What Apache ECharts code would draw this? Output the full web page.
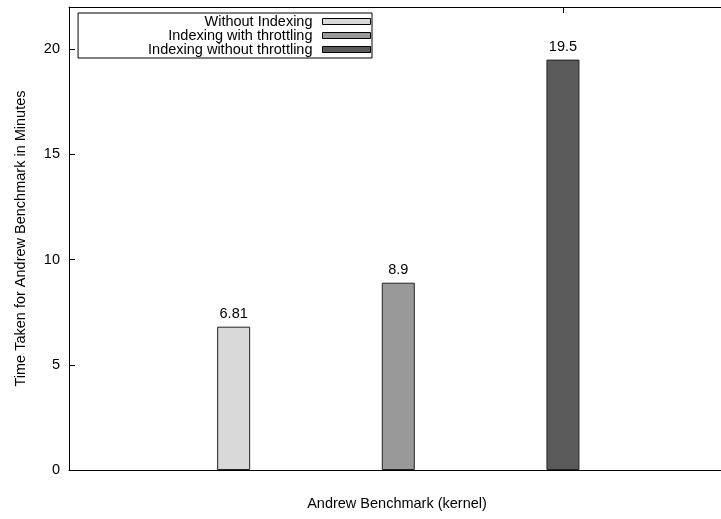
<!DOCTYPE html>
<html>
<head>
<meta charset="utf-8">
<title>Andrew Benchmark</title>
<script src="https://cdn.jsdelivr.net/npm/echarts@6/dist/echarts.min.js"></script>
<style>
  html, body { margin: 0; padding: 0; background: #fff; }
  #chart { width: 721px; height: 519px; }
</style>
</head>
<body>
<div id="chart"></div>
<script>
// Benchmark runs, one bar each
const seriesNames = ['Without Indexing', 'Indexing with throttling', 'Indexing without throttling'];
const slots = [1, 2, 3];
const minutes = [6.81, 8.9, 19.5];
const barColors = ['#d9d9d9', '#999999', '#5a5a5a'];
const yTicks = [0, 5, 10, 15, 20];
const xTitle = 'Andrew Benchmark (kernel)';
const yTitle = 'Time Taken for Andrew Benchmark in Minutes';

const FONT = 'Liberation Sans, Arial, Helvetica, sans-serif';
const FS = 14.5;

const chart = echarts.init(document.getElementById('chart'), null, { renderer: 'canvas' });

const series = seriesNames.map((name, i) => ({
  name: name,
  type: 'bar',
  xAxisIndex: 0,
  yAxisIndex: 0,
  barWidth: 33,
  barGap: '-100%',
  data: [[slots[i], minutes[i]]],
  itemStyle: { color: barColors[i], borderColor: '#222', borderWidth: 1 },
  label: {
    show: true,
    position: 'top',
    distance: 5,
    color: '#000',
    fontFamily: FONT,
    fontSize: FS,
    formatter: (p) => String(p.value[1])
  },
  emphasis: { disabled: true },
  animation: false
}));

// x range: the frame is cut by the right edge of the canvas
const X_MIN = 0;
const X_MAX = 3.96;

chart.setOption({
  animation: false,
  backgroundColor: '#fff',
  grid: { left: 69, right: 0, top: 7, bottom: 49, containLabel: false },
  legend: {
    data: seriesNames,
    orient: 'vertical',
    align: 'right',
    right: 349,
    top: 13,
    itemWidth: 48,
    itemHeight: 6,
    itemGap: -1,
    padding: [1, 1, 1, 70],
    borderColor: '#000',
    borderWidth: 1,
    backgroundColor: '#fff',
    selectedMode: false,
    icon: 'rect',
    itemStyle: { borderColor: '#000', borderWidth: 1 },
    textStyle: {
      color: '#000',
      fontFamily: FONT,
      fontSize: FS,
      lineHeight: 14,
      padding: [0, 5, 0, 0]
    }
  },
  xAxis: [
    {
      type: 'value',
      position: 'bottom',
      min: X_MIN,
      max: X_MAX,
      name: xTitle,
      nameLocation: 'middle',
      nameGap: 26,
      nameTextStyle: { color: '#000', fontFamily: FONT, fontSize: FS, padding: [0, 0, 0, 4] },
      axisLine: { show: true, onZero: false, lineStyle: { color: '#000', width: 1 } },
      axisTick: { show: false },
      axisLabel: { show: false },
      splitLine: { show: false }
    },
    {
      type: 'value',
      position: 'top',
      min: X_MIN,
      max: X_MAX,
      axisLine: { show: true, onZero: false, lineStyle: { color: '#000', width: 1 } },
      axisTick: { show: true, inside: true, length: 6, customValues: [3], lineStyle: { color: '#000' } },
      axisLabel: { show: false },
      splitLine: { show: false }
    }
  ],
  yAxis: {
    type: 'value',
    min: 0,
    max: 22,
    interval: 5,
    name: yTitle,
    nameLocation: 'middle',
    nameGap: 41,
    nameRotate: 90,
    nameTextStyle: { color: '#000', fontFamily: FONT, fontSize: FS },
    axisLine: { show: true, onZero: false, lineStyle: { color: '#000', width: 1 } },
    axisTick: { show: true, inside: true, length: 6, customValues: yTicks, lineStyle: { color: '#000' } },
    axisLabel: { show: true, margin: 9, color: '#000', fontFamily: FONT, fontSize: FS, customValues: yTicks },
    splitLine: { show: false }
  },
  series: series
});
</script>
</body>
</html>
